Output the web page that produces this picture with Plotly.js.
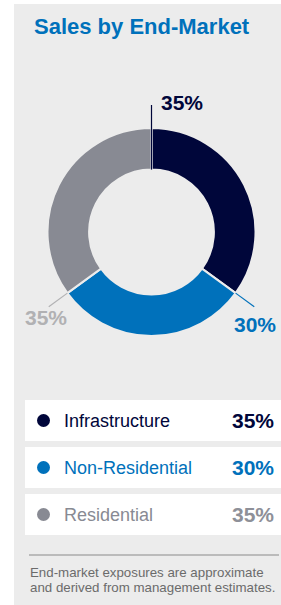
<!DOCTYPE html>
<html><head><meta charset="utf-8">
<script src="https://cdn.plot.ly/plotly-3.0.1.min.js"></script>
<style>html,body{margin:0;padding:0;background:#fff;}#chart{width:281px;height:605px;}</style>
</head><body><div id="chart"></div>
<script>
const categories = ["Infrastructure", "Non-Residential", "Residential"];
const values = [35, 30, 35];
const valueLabels = ["35%", "30%", "35%"];
const colors = ["#00063a", "#0071bb", "#888a93"];
const donutLabelColors = ["#00063a", "#0071bb", "#b1b1b3"];
const legendPctColors = ["#00063a", "#0071bb", "#8e9098"];
const titleText = "Sales by End-Market";
const footnoteLines = ["End-market exposures are approximate", "and derived from management estimates."];

const W = 281, H = 605;
const px = x => x / W, py = y => 1 - y / H;
const FONT = "Liberation Sans, Arial, Helvetica, sans-serif";
const PANEL = "#ececec";

// donut geometry (pixels)
const cx = 151.5, cy = 232, R = 104, HOLE = 0.6, LEAD = 127;

const shapes = [];
const annotations = [];

// panel background
shapes.push({type: "rect", xref: "paper", yref: "paper", x0: px(14), x1: px(281), y0: py(605), y1: py(4),
  fillcolor: PANEL, line: {width: 0}, layer: "below"});

// title
annotations.push({xref: "paper", yref: "paper", x: px(32), y: py(27), xanchor: "left", yanchor: "middle",
  text: titleText, showarrow: false, font: {family: FONT, size: 22, color: "#0071bb", weight: "bold"}});

// leader lines + labels at slice start angles
const total = values.reduce((a, b) => a + b, 0);
let cum = 0;
const startR = [R * HOLE, R, R];
const labelOff = [[7, -2, "left"], [1, 18, "center"], [-3, 11, "center"]];
values.forEach((v, i) => {
  const ang = cum / total * 2 * Math.PI;
  cum += v;
  const dx = Math.sin(ang), dy = -Math.cos(ang);
  const x0 = cx + startR[i] * dx, y0 = cy + startR[i] * dy;
  const x1 = cx + LEAD * dx, y1 = cy + LEAD * dy;
  shapes.push({type: "line", xref: "paper", yref: "paper", x0: px(x0), y0: py(y0), x1: px(x1), y1: py(y1),
    line: {color: donutLabelColors[i], width: 1.2}});
  const o = labelOff[i];
  annotations.push({xref: "paper", yref: "paper", x: px(x1 + o[0]), y: py(y1 + o[1]), xanchor: o[2], yanchor: "middle",
    text: valueLabels[i], showarrow: false, font: {family: FONT, size: 21, color: donutLabelColors[i], weight: "bold"}});
});

// legend table
const rowTop = 400, rowH = 41, rowGap = 6;
categories.forEach((c, i) => {
  const t = rowTop + i * (rowH + rowGap), mid = t + rowH / 2;
  shapes.push({type: "rect", xref: "paper", yref: "paper", x0: px(25), x1: px(281), y0: py(t + rowH), y1: py(t),
    fillcolor: "#ffffff", line: {width: 0}, layer: "below"});
  shapes.push({type: "circle", xref: "paper", yref: "paper", x0: px(37), x1: px(50), y0: py(mid + 6.5), y1: py(mid - 6.5),
    fillcolor: colors[i], line: {width: 0}});
  annotations.push({xref: "paper", yref: "paper", x: px(62), y: py(mid), xanchor: "left", yanchor: "middle",
    text: c, showarrow: false, font: {family: FONT, size: 18, color: colors[i]}});
  annotations.push({xref: "paper", yref: "paper", x: px(276), y: py(mid), xanchor: "right", yanchor: "middle",
    text: valueLabels[i], showarrow: false, font: {family: FONT, size: 21, color: legendPctColors[i], weight: "bold"}});
});

// footnote
shapes.push({type: "line", xref: "paper", yref: "paper", x0: px(29), x1: px(279), y0: py(555), y1: py(555),
  line: {color: "#8a8a8a", width: 1}});
footnoteLines.forEach((t, i) => {
  annotations.push({xref: "paper", yref: "paper", x: px(28), y: py(572.3 + i * 15), xanchor: "left", yanchor: "middle", align: "left",
    text: t, showarrow: false, font: {family: FONT, size: 13.3, color: "#6b6b6b"}});
});

const trace = {
  type: "pie", values: values, labels: categories, sort: false, direction: "clockwise", rotation: 0,
  hole: HOLE, textinfo: "none", hoverinfo: "none", showlegend: false,
  marker: {colors: colors, line: {color: PANEL, width: 2}},
  domain: {x: [px(cx - R), px(cx + R)], y: [py(cy + R), py(cy - R)]}
};

Plotly.newPlot("chart", [trace], {
  width: W, height: H, margin: {l: 0, r: 0, t: 0, b: 0},
  paper_bgcolor: "#ffffff", showlegend: false, shapes: shapes, annotations: annotations
}, {staticPlot: true, displayModeBar: false});
</script></body></html>
